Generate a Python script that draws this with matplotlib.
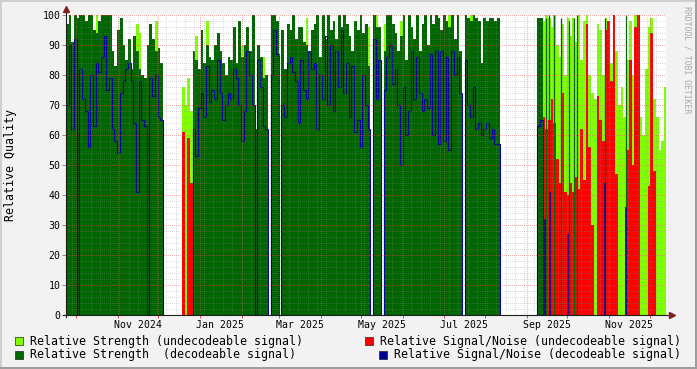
import numpy as np
import matplotlib
matplotlib.use('Agg')
import matplotlib.pyplot as plt
import matplotlib.dates as mdates
from matplotlib.patches import Rectangle
from matplotlib.lines import Line2D
from datetime import datetime, timedelta

N = None

# one sample every 2 days, first sample starts at the left edge of the graph
start = datetime(2024, 9, 23, 14)
step_days = 2

# Relative Strength (decodeable signal)
strength_dec = [
    97, 100, 91, 100, 99, 100, 100, 98, 100, 100,
    95, 94, 98, 100, 100, 100, 100, 88, 83, 95,
    99, 90, 85, 92, 82, 93, 88, 82, 80, 79,
    90, 97, 92, 88, 89, 84, N, N, N, N,
    N, N, N, N, N, N, N, 88, 85, 82,
    95, 84, 90, 86, 85, 90, 94, 88, 84, 80,
    86, 85, 96, 84, 98, 86, 90, 96, 88, 100,
    62, 90, 86, 79, 80, N, 100, 100, 98, N,
    95, 82, 97, 95, 100, 92, 96, 96, 91, 90,
    88, 95, 97, 100, 86, 100, 92, 100, 95, 98,
    92, 100, 96, 100, 97, 93, 88, 98, 95, 100,
    94, 97, 83, N, 100, 96, 96, N, 88, 100,
    100, 97, 94, 88, 93, 100, 85, 100, 96, 92,
    100, 88, 97, 100, 90, 100, 97, 100, 99, 95,
    100, 98, 96, 100, 92, 100, 88, N, 100, 99,
    98, 100, 99, 98, 84, 99, 98, 99, 99, 98,
    99, N, N, N, N, N, N, N, N, N,
    N, N, N, N, N, 99, 99, N, N, N,
    N, N, N, N, N, N, N, N, N, N,
    N, N, N, N, N, N, N, N, N, N,
    N, N, N, N, N, N, N, N, N, N,
    N, N, N, N, N, N, N, N, N, N,
    N, N, N,
]

# Relative Signal/Noise (decodeable signal)
snr_dec = [
    70, 90, 62, 92, N, 82, 72, 68, 56, 80,
    63, 84, 81, 86, 93, 75, 79, 62, 58, 54,
    74, 78, 82, 84, 78, 64, 41, 78, 65, 63,
    N, 79, 73, 80, 66, 65, N, N, N, N,
    N, N, N, N, N, N, N, 62, 53, 69,
    74, 66, 83, 71, 75, 72, 85, 74, 65, 70,
    74, 72, 82, 79, 70, 58, 68, 88, 80, 70,
    N, 85, 76, 63, 62, N, 80, 95, 87, N,
    70, 66, 84, 86, 81, 78, 64, 85, 75, 72,
    88, 82, 84, 62, 80, 72, 93, 70, 90, 68,
    88, 76, 95, 74, 84, 66, 83, 61, 65, 56,
    80, 70, 62, N, 92, 72, 85, N, 75, 86,
    90, 77, 82, 70, 50, 76, 60, 68, 88, 72,
    86, 74, 68, 72, 69, 87, 60, 88, 57, 88,
    58, 86, 55, 88, 80, 86, 74, N, 85, 70,
    66, 76, 62, 64, 60, 62, 64, 59, 62, 57,
    57, N, N, N, N, N, N, N, N, N,
    N, N, N, N, N, 63, 65, N, N, N,
    N, N, N, N, N, N, N, N, N, N,
    N, N, N, N, N, N, N, N, N, N,
    N, N, N, N, N, N, N, N, N, N,
    N, N, N, N, N, N, N, N, N, N,
    N, N, N,
]

# Relative Strength (undecodeable signal)
strength_undec = [
    N, N, N, N, N, N, N, N, N, N,
    N, 100, N, N, N, N, N, N, N, N,
    N, N, N, N, N, N, 97, 94, N, N,
    N, N, N, 98, N, N, N, N, N, N,
    N, N, N, 76, 70, 79, 68, N, 93, N,
    N, N, 98, N, N, N, N, N, N, N,
    N, N, N, N, N, 90, N, N, N, N,
    N, N, N, 86, N, N, N, N, N, N,
    N, N, N, N, N, N, N, N, N, 99,
    N, N, N, N, N, N, N, N, N, N,
    N, N, N, N, N, N, N, N, N, N,
    N, N, 96, N, N, 100, N, N, 97, N,
    N, N, N, N, 98, N, N, N, N, N,
    N, N, N, N, N, N, N, N, N, N,
    N, N, 100, N, N, N, N, N, N, N,
    100, N, N, N, N, N, N, N, N, N,
    N, N, N, N, N, N, N, N, N, N,
    N, N, N, N, N, N, N, 98, 100, 99,
    96, 100, 90, 86, 97, 80, 99, 93, 99, 91,
    100, 85, 98, 100, 80, 74, 72, 97, 95, 80,
    99, 92, 84, 98, 88, 70, 76, 66, 85, 98,
    80, 100, 99, 66, 60, 82, 96, 99, 72, 66,
    55, 58, 76,
]

# Relative Signal/Noise (undecodeable signal)
snr_undec = [
    N, N, N, N, N, N, N, N, N, N,
    N, N, N, N, N, N, N, N, N, N,
    N, N, N, N, N, N, N, N, N, N,
    N, N, N, N, N, N, N, N, N, N,
    N, N, N, 61, N, 59, 44, N, N, N,
    N, N, N, N, N, N, N, N, N, N,
    N, N, N, N, N, N, N, N, N, N,
    N, N, N, N, N, N, N, N, N, N,
    N, N, N, N, N, N, N, N, N, N,
    N, N, N, N, N, N, N, N, N, N,
    N, N, N, N, N, N, N, N, N, N,
    N, N, N, N, N, N, N, N, N, N,
    N, N, N, N, N, N, N, N, N, N,
    N, N, N, N, N, N, N, N, N, N,
    N, N, N, N, N, N, N, N, N, N,
    N, N, N, N, N, N, N, N, N, N,
    N, N, N, N, N, N, N, N, N, N,
    N, N, N, N, N, N, N, 66, 62, 65,
    72, 64, 52, 44, 74, 41, 40, 44, 41, 46,
    42, 62, 45, 97, 56, 30, N, 73, 65, 58,
    95, 98, 78, 100, 47, N, N, N, 55, 85,
    50, 96, 100, N, N, N, 43, 94, 48, N,
    N, N, N,
]

# short decodeable bursts between the undecodeable samples
burst_dates = ['2025-09-15', '2025-09-17 08:00', '2025-09-21', '2025-09-26 05:00',
               '2025-10-02 05:00', '2025-10-05 22:00', '2025-10-08 05:00',
               '2025-10-29', '2025-11-13 12:00']
burst_strength = [99, 100, 100, 99, 98, 99, 100, 99, 100]
burst_snr_dates = ['2025-09-14 06:00', '2025-09-18', '2025-10-01 10:00',
                   '2025-10-29', '2025-11-13 12:00']
burst_snr = [32, 41, 27, 44, 36]

month_labels = ['Nov 2024', 'Jan 2025', 'Mar 2025', 'May 2025',
                'Jul 2025', 'Sep 2025', 'Nov 2025']
label_dates = ['2024-11-16', '2025-01-16', '2025-03-16', '2025-05-16',
               '2025-07-16', '2025-09-16', '2025-11-16']

plt.rcParams['font.family'] = 'DejaVu Sans Mono'

W, H = 697, 369
fig = plt.figure(figsize=(W / 100, H / 100), dpi=100, facecolor='#f2f2f2')
ax = fig.add_axes([66 / W, (H - 315) / H, 600 / W, 300 / H])
ax.set_facecolor('white')
for s in ax.spines.values():
    s.set_visible(False)

x0 = mdates.date2num(start)
xmax = x0 + 600 / 1.3466
edges = x0 + step_days * np.arange(len(strength_dec) + 1)
ax.set_xlim(x0, xmax)
ax.set_ylim(0, 100)

c_lg, c_dg, c_red, c_blue = '#80ff00', '#006600', '#ff0000', '#000099'

ax.stairs(np.array(strength_undec, dtype=float), edges, fill=True, color=c_lg, lw=0, zorder=2)
ax.stairs(np.array(strength_dec, dtype=float), edges, fill=True, color=c_dg, lw=0, zorder=3)
ax.stairs(np.array(snr_undec, dtype=float), edges, fill=True, color=c_red, lw=0, zorder=4)
bx = mdates.datestr2num(burst_dates)
ax.vlines(bx, 0, burst_strength, colors=c_dg, lw=0.9, zorder=5)
ax.stairs(np.array(snr_dec, dtype=float), edges, fill=False, baseline=0,
          color=c_blue, lw=0.8, zorder=6)
ax.vlines(mdates.datestr2num(burst_snr_dates), 0, burst_snr, colors=c_blue, lw=1.2, zorder=6)

# grid (rrdtool draws it over the data)
minor_y = [v for v in range(2, 101, 2) if v % 10]
major_y = list(range(10, 101, 10))
grid_kw = dict(lw=0.72, linestyles=(0, (1, 1.5)), zorder=7, antialiased=False)
ax.hlines(minor_y, x0, xmax, colors='#8f8f8f', alpha=0.3, **grid_kw)
ax.hlines(major_y, x0, xmax, colors='#de5050', alpha=0.45, **grid_kw)
weeks = []
d = datetime(2024, 9, 21)
while mdates.date2num(d) < xmax:
    if mdates.date2num(d) > x0:
        weeks.append(mdates.date2num(d))
    d += timedelta(days=7)
months = []
for yy, mm in [(2024, m) for m in range(10, 13)] + [(2025, m) for m in range(1, 13)]:
    months.append(mdates.date2num(datetime(yy, mm, 1)))
ax.vlines(weeks, 0, 100, colors='#8f8f8f', alpha=0.3, **grid_kw)
ax.vlines(months, 0, 100, colors='#de5050', alpha=0.45, **grid_kw)

# axes with arrows
ax.plot([-3 / 600, 1 + 5 / 600], [0, 0], transform=ax.transAxes, color='#1f1f1f',
        lw=0.8, clip_on=False, zorder=10)
ax.plot([0, 0], [-2 / 300, 1 + 4 / 300], transform=ax.transAxes, color='#1f1f1f',
        lw=0.8, clip_on=False, zorder=10)
ax.plot([1 + 6 / 600], [0], marker='>', ms=4.5, color='#7f1f1f', mec='#7f1f1f',
        transform=ax.transAxes, clip_on=False, zorder=11)
ax.plot([0], [1 + 6 / 300], marker='^', ms=4.5, color='#7f1f1f', mec='#7f1f1f',
        transform=ax.transAxes, clip_on=False, zorder=11)

ax.set_xticks(months)
ax.set_xticklabels([])
ax.tick_params(axis='x', which='major', length=2.2, width=0.72, color='#de5050')
ax.set_xticks(mdates.datestr2num(label_dates), minor=True)
ax.set_xticklabels(month_labels, minor=True)
ax.tick_params(axis='x', which='minor', length=0, pad=3.8, labelsize=7.1)
ax.set_yticks(range(0, 101, 10))
ax.tick_params(axis='y', length=2.9, width=0.72, color='#8c8c8c', pad=1.2, labelsize=7.1)

fig.text(11 / W, (H - 165) / H, 'Relative Quality', rotation=90, ha='center',
         va='center', fontsize=8.4)
fig.text(687 / W, (H - 60) / H, 'RRDTOOL / TOBI OETIKER', rotation=270, ha='center',
         va='center', fontsize=5.9, color='#a8a8a8')

# legend
items = [
    (15, 341, c_lg, 'Relative Strength (undecodeable signal)', 30),
    (365, 341, c_red, 'Relative Signal/Noise (undecodeable signal)', 380),
    (15, 354.5, c_dg, 'Relative Strength  (decodeable signal)', 30),
    (379, 354.5, c_blue, 'Relative Signal/Noise (decodeable signal)', 394),
]
for bx0, yc, col, txt, tx in items:
    fig.patches.append(Rectangle((bx0 / W, (H - yc - 4) / H), 8 / W, 8 / H,
                                 transform=fig.transFigure, facecolor=col,
                                 edgecolor='#222222', lw=0.5))
    fig.text(tx / W, (H - yc) / H, txt, ha='left', va='center', fontsize=8.37)

# 3d-ish frame
fig.add_artist(Line2D([0, 1], [1 - 1 / H, 1 - 1 / H], transform=fig.transFigure,
                      color='#cfcfcf', lw=1.44))
fig.add_artist(Line2D([1 / W, 1 / W], [0, 1], transform=fig.transFigure,
                      color='#cfcfcf', lw=1.44))
fig.add_artist(Line2D([0, 1], [1 / H, 1 / H], transform=fig.transFigure,
                      color='#9e9e9e', lw=1.44))
fig.add_artist(Line2D([1 - 1 / W, 1 - 1 / W], [0, 1], transform=fig.transFigure,
                      color='#9e9e9e', lw=1.44))

fig.savefig('out.png', dpi=100, facecolor=fig.get_facecolor())
